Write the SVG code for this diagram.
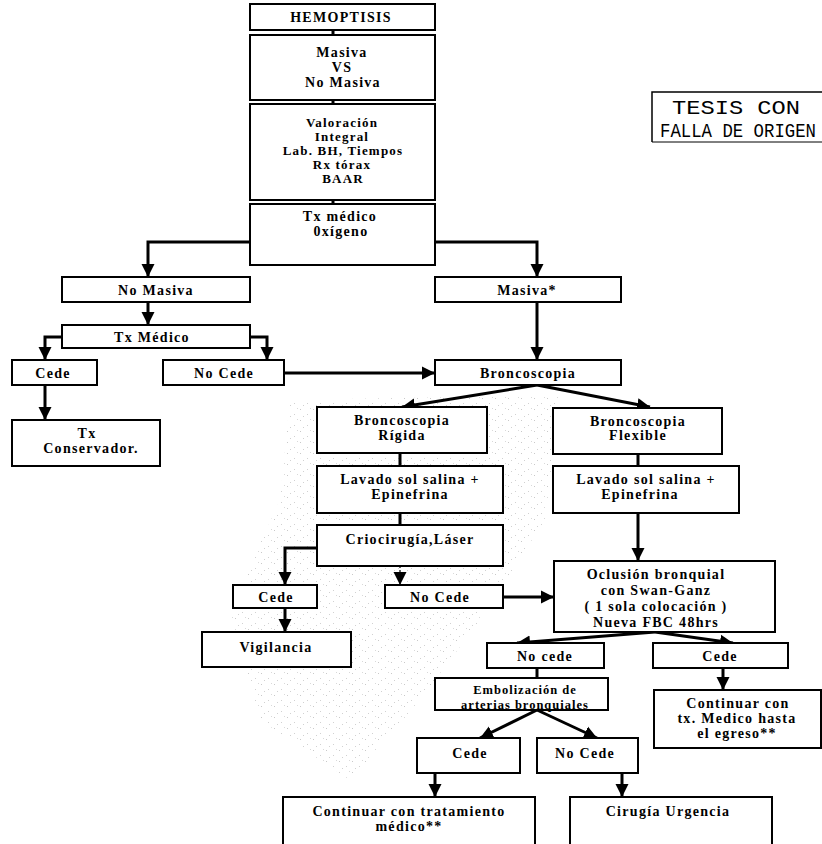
<svg xmlns="http://www.w3.org/2000/svg" width="822" height="844" viewBox="0 0 822 844">
<style>
.b{fill:#fff;stroke:#000;stroke-width:2}
.t{font-family:"Liberation Serif",serif;font-weight:bold;font-size:14px;letter-spacing:1.3px;text-anchor:middle;fill:#000}
.s{font-size:12.5px;letter-spacing:1px}
.v{font-size:13px;letter-spacing:1.2px}
.c{fill:none;stroke:#000;stroke-width:3}
.a{marker-end:url(#ah)}
.d{fill:none;stroke:#000;stroke-width:1.2;stroke-dasharray:2 2}
.m{font-family:"Liberation Mono",monospace;font-size:21px;fill:#000}
</style>
<defs>
<marker id="ah" markerUnits="userSpaceOnUse" markerWidth="14" markerHeight="14" refX="13" refY="7" orient="auto">
<path d="M0,0.5 L13,7 L0,13.5 z" fill="#000"/>
</marker>
<pattern id="noise" width="13" height="11" patternUnits="userSpaceOnUse">
<rect x="1" y="2" width="1" height="1" fill="#888"/>
<rect x="8" y="7" width="1" height="1" fill="#999"/>
<rect x="11" y="1" width="1" height="1" fill="#aaa"/>
<rect x="4" y="9" width="1" height="1" fill="#999"/>
</pattern>
</defs>
<rect width="822" height="844" fill="#fff"/>
<path d="M290,400 L560,395 L545,520 L480,620 L420,700 L350,780 L260,720 L230,610 L280,500 Z" fill="url(#noise)" opacity="0.45"/>

<g id="connectors">
<path class="c" d="M333,30 V35"/>
<path class="c" d="M333,100 V104"/>
<path class="c" d="M333,200 V204"/>
<path class="c a" d="M250,242 H148 V277"/>
<path class="c a" d="M435,242 H537 V277"/>
<path class="c a" d="M148,302 V325"/>
<path class="c a" d="M62,337 H45 V360"/>
<path class="c a" d="M250,337 H267 V360"/>
<path class="c a" d="M284,373 H435"/>
<path class="c a" d="M537,302 V360"/>
<path class="c a" d="M45,385 V420"/>
<path class="c a" d="M537,385 L402,407"/>
<path class="c a" d="M537,385 L650,407"/>
<path class="c" d="M400,453 V466"/>
<path class="c" d="M400,513 V525"/>
<path class="c a" d="M317,548 H285 V585"/>
<path class="d a" d="M400,566 V585"/>
<path class="c a" d="M503,597 H554"/>
<path class="c a" d="M285,608 V632"/>
<path class="c" d="M638,454 V466"/>
<path class="c a" d="M638,513 V561"/>
<path class="c a" d="M655,632 L517,643"/>
<path class="c a" d="M655,632 L733,643"/>
<path class="c" d="M537,668 V678"/>
<path class="c a" d="M723,668 V690"/>
<path class="c a" d="M537,710 L480,738"/>
<path class="c a" d="M537,710 L597,738"/>
<path class="c a" d="M435,773 V797"/>
<path class="c a" d="M622,773 V797"/>
</g>

<g id="hemoptisis"><rect class="b" x="250" y="4" width="185" height="26"/><text class="t" x="341" y="22" letter-spacing="2">HEMOPTISIS</text></g>
<g id="masiva-vs"><rect class="b" x="250" y="35" width="185" height="65"/><text class="t" x="342" y="57">Masiva</text><text class="t" x="342" y="72">VS</text><text class="t" x="343" y="87">No Masiva</text></g>
<g id="valoracion"><rect class="b" x="250" y="104" width="185" height="96"/><text class="t v" x="342" y="127">Valoración</text><text class="t v" x="342" y="141">Integral</text><text class="t v" x="343" y="155">Lab. BH, Tiempos</text><text class="t v" x="342" y="169">Rx tórax</text><text class="t v" x="343" y="183">BAAR</text></g>
<g id="tx-medico-oxigeno"><rect class="b" x="250" y="204" width="185" height="61"/><text class="t" x="340" y="221">Tx  médico</text><text class="t" x="341" y="236">0xígeno</text></g>
<g id="no-masiva"><rect class="b" x="62" y="277" width="188" height="25"/><text class="t" x="156" y="295">No Masiva</text></g>
<g id="masiva"><rect class="b" x="435" y="277" width="186" height="25"/><text class="t" x="527" y="295">Masiva*</text></g>
<g id="tx-medico"><rect class="b" x="62" y="325" width="188" height="23"/><text class="t" x="152" y="342">Tx Médico</text></g>
<g id="cede-1"><rect class="b" x="12" y="360" width="85" height="25"/><text class="t" x="53" y="378">Cede</text></g>
<g id="no-cede-1"><rect class="b" x="163" y="360" width="121" height="25"/><text class="t" x="224" y="378">No Cede</text></g>
<g id="broncoscopia"><rect class="b" x="435" y="360" width="186" height="25"/><text class="t" x="528" y="378">Broncoscopia</text></g>
<g id="tx-conservador"><rect class="b" x="12" y="420" width="148" height="46"/><text class="t" x="87" y="438">Tx</text><text class="t" x="91" y="453">Conservador.</text></g>
<g id="bronco-rigida"><rect class="b" x="317" y="407" width="170" height="46"/><text class="t" x="402" y="425">Broncoscopia</text><text class="t" x="402" y="440">Rígida</text></g>
<g id="bronco-flexible"><rect class="b" x="553" y="408" width="169" height="46"/><text class="t" x="638" y="426">Broncoscopia</text><text class="t" x="638" y="440">Flexible</text></g>
<g id="lavado-1"><rect class="b" x="317" y="466" width="186" height="47"/><text class="t" x="410" y="484">Lavado sol salina +</text><text class="t" x="410" y="499">Epinefrina</text></g>
<g id="lavado-2"><rect class="b" x="553" y="466" width="186" height="47"/><text class="t" x="646" y="484">Lavado sol salina +</text><text class="t" x="640" y="499">Epinefrina</text></g>
<g id="criocirugia"><rect class="b" x="317" y="525" width="186" height="41"/><text class="t" x="410" y="544">Criocirugía,Láser</text></g>
<g id="cede-2"><rect class="b" x="233" y="585" width="84" height="23"/><text class="t" x="276" y="602">Cede</text></g>
<g id="no-cede-2"><rect class="b" x="385" y="585" width="118" height="23"/><text class="t" x="440" y="602">No Cede</text></g>
<g id="vigilancia"><rect class="b" x="202" y="632" width="149" height="35"/><text class="t" x="276" y="652">Vigilancia</text></g>
<g id="oclusion"><rect class="b" x="554" y="561" width="221" height="71"/><text class="t" x="656" y="579">Oclusión bronquial</text><text class="t" x="656" y="595">con Swan-Ganz</text><text class="t" x="656" y="611">( 1 sola colocación )</text><text class="t" x="656" y="627">Nueva FBC 48hrs</text></g>
<g id="no-cede-3"><rect class="b" x="487" y="643" width="117" height="25"/><text class="t" x="545" y="661">No cede</text></g>
<g id="cede-3"><rect class="b" x="653" y="643" width="135" height="25"/><text class="t" x="720" y="661">Cede</text></g>
<g id="embolizacion"><rect class="b" x="435" y="678" width="173" height="32"/><text class="t s" x="525" y="694">Embolización de</text><text class="t s" x="525" y="709">arterias bronquiales</text></g>
<g id="continuar-tx"><rect class="b" x="654" y="690" width="167" height="58"/><text class="t" x="738" y="708">Continuar con</text><text class="t" x="737" y="723">tx. Medico hasta</text><text class="t" x="737" y="738">el egreso**</text></g>
<g id="cede-4"><rect class="b" x="417" y="738" width="103" height="35"/><text class="t" x="470" y="758">Cede</text></g>
<g id="no-cede-4"><rect class="b" x="537" y="738" width="101" height="35"/><text class="t" x="585" y="758">No Cede</text></g>
<g id="continuar"><rect class="b" x="283" y="797" width="252" height="60"/><text class="t" x="409" y="816">Continuar con tratamiento</text><text class="t" x="409" y="831">médico**</text></g>
<g id="cirugia"><rect class="b" x="570" y="797" width="202" height="60"/><text class="t" x="668" y="816">Cirugía Urgencia</text></g>

<g id="sello">
<path d="M652,142 V92 H822" fill="none" stroke="#000" stroke-width="1.5"/>
<path d="M652,142 H822" fill="none" stroke="#000" stroke-width="1"/>
<text class="m" x="672" y="114" textLength="128" lengthAdjust="spacingAndGlyphs">TESIS CON</text>
<text class="m" x="660" y="137" textLength="156" lengthAdjust="spacingAndGlyphs">FALLA DE ORIGEN</text>
</g>
</svg>
